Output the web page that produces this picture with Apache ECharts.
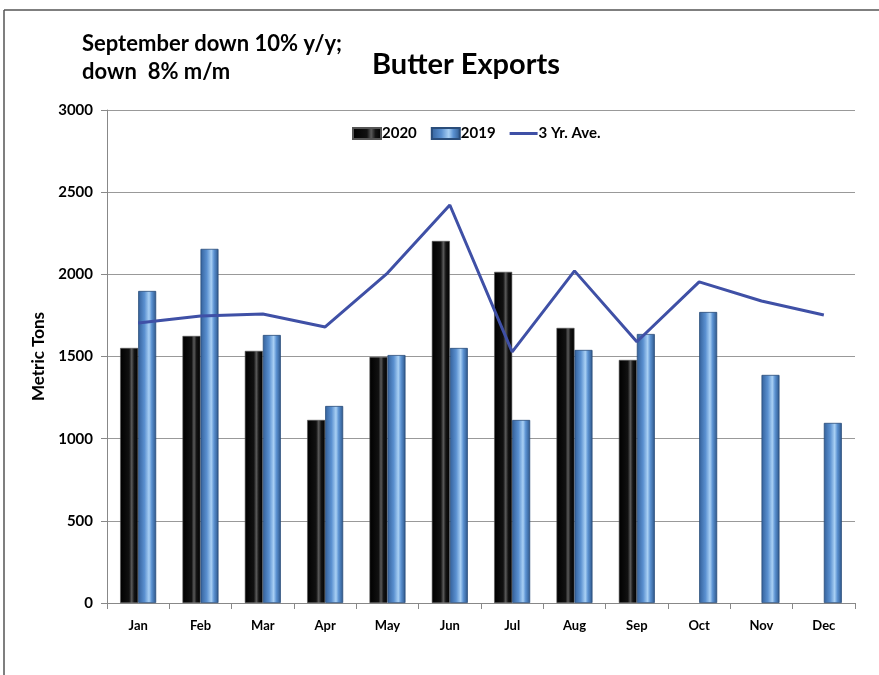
<!DOCTYPE html>
<html>
<head>
<meta charset="utf-8">
<script src="https://cdn.jsdelivr.net/npm/echarts@6/dist/echarts.min.js"></script>
<style>
  html, body { margin: 0; padding: 0; background: #fff; }
  #chart { width: 879px; height: 675px; }
</style>
</head>
<body>
<div id="chart"></div>
<script>
var months = ['Jan', 'Feb', 'Mar', 'Apr', 'May', 'Jun', 'Jul', 'Aug', 'Sep', 'Oct', 'Nov', 'Dec'];
var exports2020 = [1552, 1625, 1534, 1114, 1497, 2203, 2015, 1674, 1479, null, null, null];
var exports2019 = [1899, 2155, 1631, 1199, 1509, 1552, 1114, 1540, 1637, 1771, 1388, 1096];
var threeYrAve = [1704, 1747, 1759, 1680, 2008, 2422, 1528, 2021, 1590, 1954, 1838, 1753];

var font = 'Lato, "Open Sans", sans-serif';

var blackFill = new echarts.graphic.LinearGradient(0, 0, 1, 0, [
  {offset: 0, color: '#000'},
  {offset: 0.5, color: '#111'},
  {offset: 0.64, color: '#5a5a5a'},
  {offset: 0.78, color: '#141414'},
  {offset: 1, color: '#000'}
]);
var blueFill = new echarts.graphic.LinearGradient(0, 0, 1, 0, [
  {offset: 0, color: '#33609a'},
  {offset: 0.35, color: '#5a90d0'},
  {offset: 0.6, color: '#a9d0f4'},
  {offset: 0.75, color: '#5b92d2'},
  {offset: 1, color: '#2c5588'}
]);

var chart = echarts.init(document.getElementById('chart'));
chart.setOption({
  animation: false,
  textStyle: {fontFamily: font},
  title: [
    {
      text: 'Butter Exports',
      left: 367, top: 45,
      textStyle: {fontSize: 29, fontWeight: 'bold', color: '#000', fontFamily: font}
    },
    {
      text: 'September down 10% y/y;\ndown  8% m/m',
      left: 77, top: 25,
      textStyle: {fontSize: 22, fontWeight: 'bold', color: '#000', lineHeight: 28, fontFamily: font}
    }
  ],
  legend: {
    left: 347, top: 121,
    itemWidth: 28, itemHeight: 11, itemGap: 14,
    textStyle: {fontSize: 15, fontWeight: 'bold', color: '#000', padding: [0, 0, 0, -4]},
    data: [
      {name: '2020', icon: 'rect'},
      {name: '2019', icon: 'rect'},
      {name: '3 Yr. Ave.', icon: 'path://M0,0 H28 V3 H0 Z'}
    ]
  },
  grid: {left: 107, right: 24, top: 110, bottom: 72},
  xAxis: {
    type: 'category',
    data: months,
    axisLine: {lineStyle: {color: '#888'}},
    axisTick: {show: true, length: 6, lineStyle: {color: '#888'}},
    axisLabel: {fontSize: 13, fontWeight: 'bold', color: '#000', margin: 16}
  },
  yAxis: {
    type: 'value',
    min: 0, max: 3000, interval: 500,
    name: 'Metric Tons',
    nameLocation: 'middle',
    nameGap: 60,
    nameTextStyle: {fontSize: 17, fontWeight: 'bold', color: '#000'},
    axisLine: {show: true, lineStyle: {color: '#888'}},
    axisTick: {show: true, length: 6, lineStyle: {color: '#888'}},
    axisLabel: {fontSize: 15, fontWeight: 'bold', color: '#000', margin: 14,
      formatter: function (v) { return String(v); }},
    splitLine: {lineStyle: {color: '#999', width: 1}}
  },
  series: [
    {
      name: '2020', type: 'bar', data: exports2020,
      barWidth: 18, barGap: '0%',
      itemStyle: {color: blackFill, borderColor: '#555', borderWidth: 0.6}
    },
    {
      name: '2019', type: 'bar', data: exports2019,
      barWidth: 18,
      itemStyle: {color: blueFill, borderColor: '#2a4d7a', borderWidth: 0.8}
    },
    {
      name: '3 Yr. Ave.', type: 'line', data: threeYrAve,
      symbol: 'none', z: 5,
      lineStyle: {color: '#3f50a6', width: 3},
      itemStyle: {color: '#3f50a6'}
    }
  ],
  graphic: [
    {type: 'line', shape: {x1: 4, y1: 10, x2: 879, y2: 10}, style: {stroke: '#555', lineWidth: 1.5}},
    {type: 'line', shape: {x1: 4, y1: 10, x2: 4, y2: 675}, style: {stroke: '#555', lineWidth: 1.5}}
  ]
});
</script>
</body>
</html>
